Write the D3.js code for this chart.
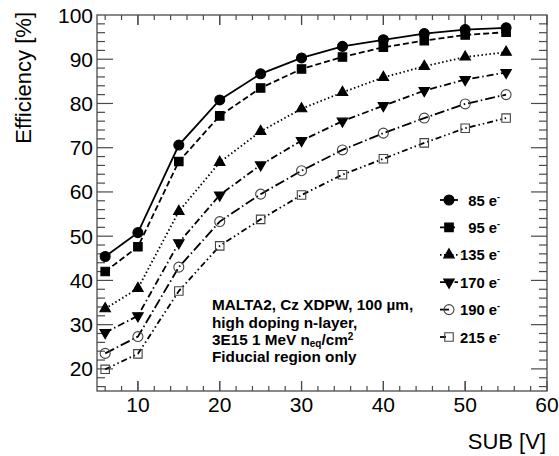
<!DOCTYPE html>
<html>
<head>
<meta charset="utf-8">
<script src="https://cdnjs.cloudflare.com/ajax/libs/d3/7.8.5/d3.min.js"></script>
<style>
body { margin: 0; background: #fff; }
text { font-family: "Liberation Sans", Arial, Helvetica, sans-serif; fill: #000; }
</style>
</head>
<body>
<svg id="chart" width="559" height="456"></svg>
<script>
var svg = d3.select("#chart");

// bias voltage (SUB) points
var sub = [6, 10, 15, 20, 25, 30, 35, 40, 45, 50, 55];

var thresholds = ["85", "95", "135", "170", "190", "215"];

var eff85  = [45.4, 50.8, 70.6, 80.8, 86.7, 90.3, 92.9, 94.4, 95.8, 96.7, 97.1];
var eff95  = [42.0, 47.6, 66.9, 77.2, 83.5, 87.8, 90.5, 92.7, 94.2, 95.5, 96.1];
var eff135 = [33.6, 38.2, 55.6, 66.7, 73.7, 78.8, 82.5, 85.9, 88.4, 90.5, 91.6];
var eff170 = [28.2, 32.0, 48.5, 59.3, 66.1, 71.6, 76.0, 79.5, 82.9, 85.4, 87.0];
var eff190 = [23.5, 27.3, 43.0, 53.3, 59.5, 64.8, 69.5, 73.3, 76.7, 79.9, 82.0];
var eff215 = [19.9, 23.4, 37.6, 47.8, 53.8, 59.3, 63.9, 67.5, 71.1, 74.4, 76.7];

var xTicks = [10, 20, 30, 40, 50, 60];
var yTicks = [20, 30, 40, 50, 60, 70, 80, 90, 100];

var series = [
  {name: thresholds[0], values: eff85,  symbol: d3.symbolCircle,   open: false, dash: null},
  {name: thresholds[1], values: eff95,  symbol: d3.symbolSquare,   open: false, dash: "6,3"},
  {name: thresholds[2], values: eff135, symbol: d3.symbolTriangle, open: false, dash: "1.5,2.5"},
  {name: thresholds[3], values: eff170, symbol: "down",            open: false, dash: "7,3,1.5,3"},
  {name: thresholds[4], values: eff190, symbol: d3.symbolCircle,   open: true,  dash: "10,3,1.5,3"},
  {name: thresholds[5], values: eff215, symbol: d3.symbolSquare,   open: true,  dash: "6,3,1.5,3,1.5,3"}
];

var pLeft = 97, pRight = 547, pTop = 15, pBottom = 391;

var x = d3.scaleLinear().domain([5, 60]).range([pLeft, pRight]);
var y = d3.scaleLinear().domain([15, 100]).range([pBottom, pTop]);

var frameColor = "#4a4a4a";

// frame
svg.append("rect")
  .attr("x", pLeft).attr("y", pTop)
  .attr("width", pRight - pLeft).attr("height", pBottom - pTop)
  .attr("fill", "none").attr("stroke", frameColor).attr("stroke-width", 1.3);

// ticks (inside, mirrored)
var ticks = svg.append("g").attr("stroke", frameColor).attr("stroke-width", 1.2);
d3.range(6, 60, 2).concat(xTicks).forEach(function(v) {
  var major = v % 10 === 0;
  var len = major ? 10 : 5;
  ticks.append("line").attr("x1", x(v)).attr("x2", x(v)).attr("y1", pBottom).attr("y2", pBottom - len);
  ticks.append("line").attr("x1", x(v)).attr("x2", x(v)).attr("y1", pTop).attr("y2", pTop + len);
});
d3.range(16, 100, 2).forEach(function(v) {
  var major = v % 10 === 0;
  var len = major ? 16 : 8;
  ticks.append("line").attr("y1", y(v)).attr("y2", y(v)).attr("x1", pLeft).attr("x2", pLeft + len);
  ticks.append("line").attr("y1", y(v)).attr("y2", y(v)).attr("x1", pRight).attr("x2", pRight - len);
});

// tick labels
svg.append("g").selectAll("text")
  .data(xTicks).enter().append("text")
  .attr("x", function(d) { return x(d); })
  .attr("y", 412)
  .attr("text-anchor", "middle")
  .attr("font-size", 21)
  .text(function(d) { return d; });

svg.append("g").selectAll("text")
  .data(yTicks).enter().append("text")
  .attr("x", 93)
  .attr("y", function(d) { return y(d) + 7.5; })
  .attr("text-anchor", "end")
  .attr("font-size", 21)
  .text(function(d) { return d; });

// axis titles
svg.append("text")
  .attr("transform", "translate(31,12) rotate(-90)")
  .attr("text-anchor", "end")
  .attr("font-size", 22)
  .text("Efficiency [%]");

svg.append("text")
  .attr("x", 546).attr("y", 449)
  .attr("text-anchor", "end")
  .attr("font-size", 22)
  .text("SUB [V]");

function markerPath(s) {
  if (s === "down" || s === d3.symbolTriangle) {
    return d3.symbol().type(d3.symbolTriangle).size(48)();
  }
  if (s === d3.symbolCircle) return d3.symbol().type(s).size(78)();
  return d3.symbol().type(s).size(72)();
}

var line = d3.line()
  .x(function(d, i) { return x(sub[i]); })
  .y(function(d) { return y(d); });

series.forEach(function(s) {
  var g = svg.append("g");
  g.append("path")
    .attr("d", line(s.values))
    .attr("fill", "none")
    .attr("stroke", "#000")
    .attr("stroke-width", 1.8)
    .attr("stroke-dasharray", s.dash);
  g.selectAll("path.m")
    .data(s.values).enter().append("path")
    .attr("class", "m")
    .attr("d", markerPath(s.symbol))
    .attr("transform", function(d, i) {
      return "translate(" + x(sub[i]) + "," + y(d) + ")" + (s.symbol === "down" ? " rotate(180)" : "");
    })
    .attr("fill", s.open ? "none" : "#000")
    .attr("stroke", s.open ? "#444" : "#000")
    .attr("stroke-width", 1.1);
});

// legend
var legend = svg.append("g");
series.forEach(function(s, i) {
  var ly = 200 + i * 27.4;
  legend.append("line")
    .attr("x1", 440).attr("x2", s.open ? 449 : 458).attr("y1", ly).attr("y2", ly)
    .attr("stroke", "#000").attr("stroke-width", 1.8)
    .attr("stroke-dasharray", s.dash);
  legend.append("path")
    .attr("d", markerPath(s.symbol))
    .attr("transform", "translate(449," + ly + ")" + (s.symbol === "down" ? " rotate(180)" : ""))
    .attr("fill", s.open ? "none" : "#000")
    .attr("stroke", s.open ? "#444" : "#000")
    .attr("stroke-width", 1.1);
  var t = legend.append("text")
    .attr("x", 500).attr("y", ly + 5.5)
    .attr("text-anchor", "end")
    .attr("font-size", 14.8).attr("font-weight", "bold");
  t.append("tspan").text(s.name + " e");
  t.append("tspan").attr("dy", -6).attr("font-size", 9).text("-");
});

// annotation
var note = svg.append("g").attr("font-size", 15.3).attr("font-weight", "bold");
note.append("text").attr("x", 212).attr("y", 310).text("MALTA2, Cz XDPW, 100 \u00b5m,");
note.append("text").attr("x", 212).attr("y", 327.5).text("high doping n-layer,");
var l3 = note.append("text").attr("x", 212).attr("y", 345);
l3.append("tspan").text("3E15 1 MeV n");
l3.append("tspan").attr("dy", 2).attr("font-size", 10).text("eq");
l3.append("tspan").attr("dy", -2).text("/cm");
l3.append("tspan").attr("dy", -5).attr("font-size", 10).text("2");
note.append("text").attr("x", 212).attr("y", 362).text("Fiducial region only");
</script>
</body>
</html>
